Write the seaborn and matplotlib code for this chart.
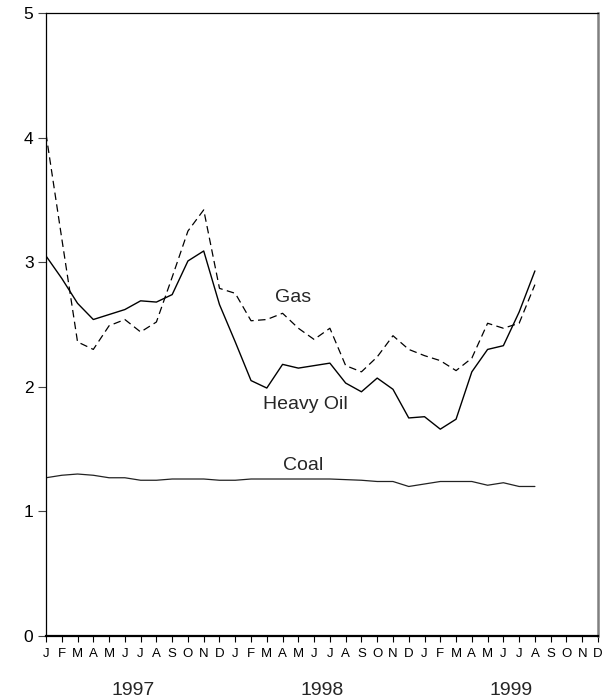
import matplotlib
matplotlib.use("Agg")
import matplotlib.pyplot as plt
import matplotlib.transforms as mtransforms
import numpy as np
import pandas as pd
import seaborn as sns

# monthly prices, Jan 1997 - Aug 1999
month_letters = ['J', 'F', 'M', 'A', 'M', 'J', 'J', 'A', 'S', 'O', 'N', 'D'] * 3
years = ['1997', '1998', '1999']

heavy_oil = [3.05, 2.87, 2.67, 2.54, 2.58, 2.62, 2.69, 2.68, 2.74, 3.01, 3.09, 2.66,
             2.36, 2.05, 1.99, 2.18, 2.15, 2.17, 2.19, 2.03, 1.96, 2.07, 1.98, 1.75,
             1.76, 1.66, 1.74, 2.12, 2.30, 2.33, 2.60, 2.93]
gas = [4.03, 3.19, 2.36, 2.30, 2.49, 2.54, 2.44, 2.52, 2.88, 3.25, 3.42, 2.79,
       2.75, 2.53, 2.54, 2.59, 2.47, 2.38, 2.47, 2.17, 2.12, 2.24, 2.41, 2.30,
       2.25, 2.21, 2.13, 2.23, 2.51, 2.47, 2.51, 2.82]
coal = [1.27, 1.29, 1.30, 1.29, 1.27, 1.27, 1.25, 1.25, 1.26, 1.26, 1.26, 1.25,
        1.25, 1.26, 1.26, 1.26, 1.26, 1.26, 1.26, 1.255, 1.25, 1.24, 1.24, 1.20,
        1.22, 1.24, 1.24, 1.24, 1.21, 1.23, 1.20, 1.20]

df = pd.DataFrame({'month': np.arange(len(gas)), 'Heavy Oil': heavy_oil,
                   'Gas': gas, 'Coal': coal})

sns.set_style("white")
plt.rcParams['font.family'] = ['Liberation Sans', 'DejaVu Sans']

fig = plt.figure(figsize=(6.12, 7.0), dpi=100)
ax = fig.add_axes([46 / 612, 1 - 636 / 700, 552 / 612, 623 / 700])

sns.lineplot(data=df, x='month', y='Heavy Oil', ax=ax, color='black', linewidth=1.0)
sns.lineplot(data=df, x='month', y='Gas', ax=ax, color='black', linewidth=0.9,
             dashes=False, linestyle=(0, (6, 3.5)))
sns.lineplot(data=df, x='month', y='Coal', ax=ax, color='#222222', linewidth=0.9)

ax.set_xlim(0, 35)
ax.set_ylim(0, 5)
ax.set_xticks(np.arange(36))
ax.set_xticklabels(month_letters, fontsize=9.5)
ax.set_yticks([0, 1, 2, 3, 4, 5])
ax.set_yticklabels(['0', '1', '2', '3', '4', '5'], fontsize=12.5)
ax.set_xlabel('')
ax.set_ylabel('')
ax.tick_params(axis='x', direction='out', length=4.5, width=0.8, pad=4, colors='black',
               bottom=True)
ax.tick_params(axis='y', direction='out', length=6, width=0.8, pad=3, colors='#444444',
               labelcolor='black', left=True)

for side in ['left', 'top']:
    ax.spines[side].set_color('black')
    ax.spines[side].set_linewidth(0.9)
ax.spines['bottom'].set_color('black')
ax.spines['bottom'].set_linewidth(1.6)
ax.spines['right'].set_color('#808080')
ax.spines['right'].set_linewidth(1.8)

# series labels
ax.text(15.66, 2.72, 'Gas', fontsize=14, ha='center', va='center')
ax.text(16.42, 1.86, 'Heavy Oil', fontsize=14, ha='center', va='center')
ax.text(16.3, 1.37, 'Coal', fontsize=14, ha='center', va='center')

# year labels under the month letters
trans = mtransforms.blended_transform_factory(ax.transData, ax.transAxes)
for k, yr in enumerate(years):
    ax.text(12 * k + 5.5, -0.087, yr, fontsize=14, ha='center', va='center',
            transform=trans)

fig.savefig('out.png', dpi=100)
